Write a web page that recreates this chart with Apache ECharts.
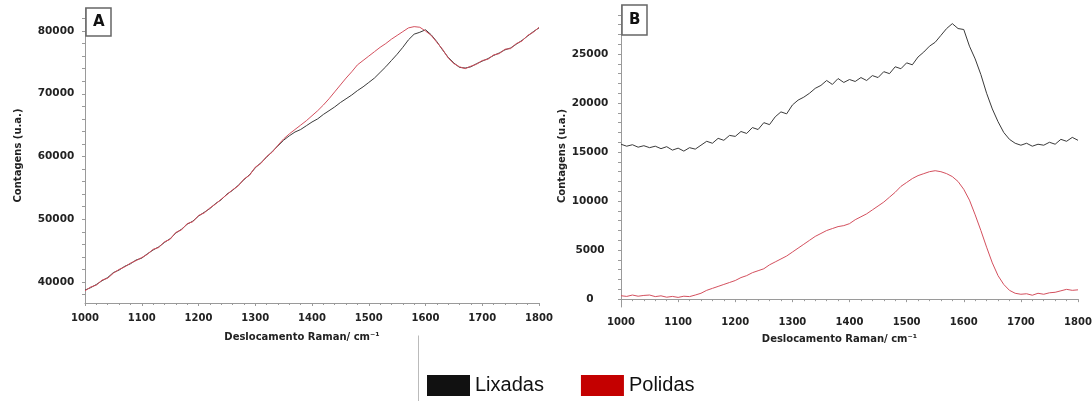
<!DOCTYPE html>
<html>
<head>
<meta charset="utf-8">
<title>Raman</title>
<script src="https://cdn.jsdelivr.net/npm/echarts@6/dist/echarts.min.js"></script>
<style>
    html, body { margin: 0; padding: 0; background: #fff; }
    #main { width: 1092px; height: 401px; }
</style>
</head>
<body>
<div id="main"></div>
<script>
// deslocamento Raman (cm-1)
let ramanShift = [1000, 1010, 1020, 1030, 1040, 1050, 1060, 1070, 1080, 1090,
    1100, 1110, 1120, 1130, 1140, 1150, 1160, 1170, 1180, 1190,
    1200, 1210, 1220, 1230, 1240, 1250, 1260, 1270, 1280, 1290,
    1300, 1310, 1320, 1330, 1340, 1350, 1360, 1370, 1380, 1390,
    1400, 1410, 1420, 1430, 1440, 1450, 1460, 1470, 1480, 1490,
    1500, 1510, 1520, 1530, 1540, 1550, 1560, 1570, 1580, 1590,
    1600, 1610, 1620, 1630, 1640, 1650, 1660, 1670, 1680, 1690,
    1700, 1710, 1720, 1730, 1740, 1750, 1760, 1770, 1780, 1790, 1800];

// painel A - espectros brutos
let lixadasA = [38700, 39100, 39600, 40200, 40700, 41500, 41900, 42500, 42900, 43500,
    43800, 44500, 45100, 45600, 46300, 46900, 47800, 48400, 49200, 49700,
    50500, 51100, 51700, 52500, 53100, 54000, 54600, 55400, 56300, 57100,
    58200, 59000, 59900, 60800, 61700, 62600, 63300, 63900, 64300, 64900,
    65500, 66000, 66700, 67300, 67900, 68600, 69200, 69800, 70500, 71100,
    71800, 72500, 73400, 74300, 75300, 76300, 77400, 78600, 79500, 79800,
    80200, 79400, 78300, 77000, 75800, 74900, 74200, 74100, 74300, 74800,
    75200, 75600, 76100, 76500, 77000, 77300, 77900, 78500, 79200, 79900, 80500];
let polidasA = [38600, 39200, 39500, 40300, 40600, 41400, 42000, 42400, 43000, 43400,
    43900, 44400, 45200, 45500, 46400, 46800, 47900, 48300, 49300, 49600,
    50600, 51000, 51800, 52400, 53200, 53900, 54700, 55300, 56400, 57000,
    58300, 58900, 60000, 60700, 61800, 62800, 63600, 64300, 65000, 65700,
    66500, 67300, 68200, 69200, 70300, 71400, 72500, 73500, 74600, 75300,
    76000, 76700, 77400, 78000, 78700, 79300, 79900, 80500, 80700, 80600,
    80000, 79300, 78200, 77100, 75700, 74800, 74300, 74000, 74400, 74700,
    75300, 75500, 76200, 76400, 77100, 77200, 78000, 78400, 79300, 79800, 80600];

// painel B - apos correcao da linha de base
let lixadasB = [15800, 15600, 15750, 15500, 15650, 15450, 15600, 15350, 15550, 15200,
    15400, 15100, 15450, 15300, 15700, 16100, 15900, 16400, 16200, 16700,
    16600, 17100, 16900, 17500, 17300, 18000, 17800, 18600, 19100, 18900,
    19800, 20300, 20600, 21000, 21500, 21800, 22300, 21900, 22500, 22100,
    22400, 22200, 22600, 22300, 22800, 22600, 23200, 23000, 23700, 23500,
    24100, 23900, 24700, 25200, 25800, 26200, 26900, 27600, 28100, 27600,
    27500, 25800, 24500, 22900, 21000, 19400, 18100, 17000, 16300, 15900,
    15700, 15900, 15600, 15800, 15700, 16000, 15800, 16300, 16100, 16500, 16200];
let polidasB = [350, 280, 420, 300, 380, 420, 260, 340, 200, 280,
    180, 300, 260, 420, 600, 900, 1100, 1300, 1500, 1700,
    1900, 2200, 2400, 2700, 2900, 3100, 3500, 3800, 4100, 4400,
    4800, 5200, 5600, 6000, 6400, 6700, 7000, 7200, 7400, 7500,
    7700, 8100, 8400, 8700, 9100, 9500, 9900, 10400, 10900, 11500,
    11900, 12300, 12600, 12800, 13000, 13100, 13000, 12800, 12500, 12000,
    11200, 10100, 8600, 7000, 5300, 3700, 2400, 1500, 900, 600,
    500, 550, 400, 600, 500, 650, 700, 850, 1000, 900, 950];

let yLabelsA = [40000, 50000, 60000, 70000, 80000];
let yTicksA = [38000, 40000, 42000, 44000, 46000, 48000, 50000, 52000, 54000, 56000, 58000,
    60000, 62000, 64000, 66000, 68000, 70000, 72000, 74000, 76000, 78000, 80000, 82000];
let yLabelsB = [0, 5000, 10000, 15000, 20000, 25000];
let yTicksB = [0, 1000, 2000, 3000, 4000, 5000, 6000, 7000, 8000, 9000, 10000,
    11000, 12000, 13000, 14000, 15000, 16000, 17000, 18000, 19000, 20000,
    21000, 22000, 23000, 24000, 25000, 26000, 27000, 28000, 29000];

function pairs(xs, ys) {
    return xs.map(function (x, i) { return [x, ys[i]]; });
}

// sem separador de milhar, como no original
function plain(v) {
    return String(v);
}

let axisFont = 'DejaVu Sans';
let axisGray = '#9a9a9a';

function xAxisOf(gridIndex, gap) {
    return {
        type: 'value',
        gridIndex: gridIndex,
        min: 1000,
        max: 1800,
        interval: 100,
        name: 'Deslocamento Raman/ cm⁻¹',
        nameLocation: 'middle',
        nameGap: gap,
        nameTextStyle: {fontFamily: axisFont, fontWeight: 'bold', fontSize: 10, color: '#222', padding: [0, 20, 0, 0]},
        axisLine: {show: true, lineStyle: {color: axisGray, width: 1}},
        axisTick: {show: true, length: 3, lineStyle: {color: axisGray}},
        minorTick: {show: true, splitNumber: 5, length: 2, lineStyle: {color: axisGray}},
        axisLabel: {
            formatter: plain, fontFamily: axisFont, fontWeight: 'bold', fontSize: 10,
            color: '#222', margin: 10
        },
        splitLine: {show: false}
    };
}

function yAxisOf(gridIndex, min, max, labels, ticks, gap, margin) {
    return {
        type: 'value',
        gridIndex: gridIndex,
        min: min,
        max: max,
        name: 'Contagens (u.a.)',
        nameLocation: 'middle',
        nameGap: gap,
        nameTextStyle: {fontFamily: axisFont, fontWeight: 'bold', fontSize: 10, color: '#222'},
        axisLine: {show: true, lineStyle: {color: axisGray, width: 1}},
        axisTick: {show: true, length: 3, customValues: ticks, lineStyle: {color: axisGray}},
        axisLabel: {
            customValues: labels, formatter: plain, fontFamily: axisFont, fontWeight: 'bold',
            fontSize: 10.5, color: '#222', margin: margin, align: 'center'
        },
        splitLine: {show: false}
    };
}

function lineOf(name, xi, yi, data, color, swatch) {
    return {
        name: name,
        type: 'line',
        xAxisIndex: xi,
        yAxisIndex: yi,
        data: data,
        showSymbol: false,
        symbol: 'none',
        smooth: false,
        animation: false,
        itemStyle: {color: swatch},
        lineStyle: {color: color, width: 1}
    };
}

let myChart = echarts.init(document.getElementById('main'), null, {renderer: 'canvas'});

let option = {
    backgroundColor: '#fff',
    animation: false,
    title: [
        {
            text: 'A', left: 86, top: 8, padding: [6, 7, 6, 7],
            borderColor: '#666', borderWidth: 1.5,
            textStyle: {fontFamily: axisFont, fontWeight: 'bold', fontSize: 15, color: '#111', lineHeight: 16}
        },
        {
            text: 'B', left: 622, top: 5, padding: [7, 7, 7, 7],
            borderColor: '#666', borderWidth: 1.5,
            textStyle: {fontFamily: axisFont, fontWeight: 'bold', fontSize: 15, color: '#111', lineHeight: 16}
        }
    ],
    legend: {
        left: 422,
        top: 370,
        icon: 'rect',
        itemWidth: 43,
        itemHeight: 21,
        itemGap: 37,
        data: [
            {name: 'Lixadas', itemStyle: {color: '#111'}},
            {name: 'Polidas', itemStyle: {color: '#c40000'}}
        ],
        textStyle: {fontFamily: 'Liberation Sans', fontSize: 20, color: '#111'}
    },
    grid: [
        {left: 85, top: 8, width: 454, height: 295, outerBoundsMode: 'none', containLabel: false},
        {left: 621, top: 5, width: 457, height: 302, outerBoundsMode: 'none', containLabel: false}
    ],
    xAxis: [xAxisOf(0, 29), xAxisOf(1, 27)],
    yAxis: [
        yAxisOf(0, 36650, 83670, yLabelsA, yTicksA, 62, 29),
        yAxisOf(1, -800, 30000, yLabelsB, yTicksB, 54, 31)
    ],
    graphic: [
        {
            type: 'line', left: 416, top: 333,
            shape: {x1: 0, y1: 0, x2: 0, y2: 68},
            style: {stroke: '#bbb', lineWidth: 1}
        }
    ],
    series: [
        lineOf('Lixadas', 0, 0, pairs(ramanShift, lixadasA), '#3a3a3a', '#111'),
        lineOf('Polidas', 0, 0, pairs(ramanShift, polidasA), '#d4505e', '#c40000'),
        lineOf('Lixadas', 1, 1, pairs(ramanShift, lixadasB), '#3a3a3a', '#111'),
        lineOf('Polidas', 1, 1, pairs(ramanShift, polidasB), '#d4505e', '#c40000')
    ]
};

myChart.setOption(option);
</script>
</body>
</html>
